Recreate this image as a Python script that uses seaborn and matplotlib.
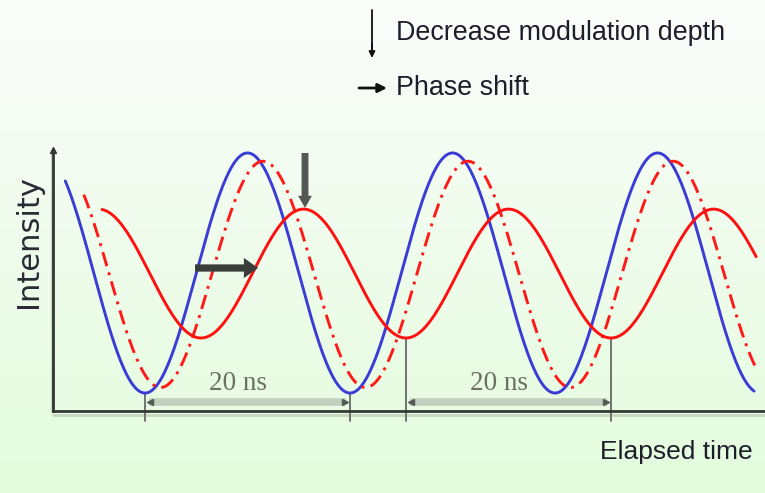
import numpy as np
import pandas as pd
import matplotlib
matplotlib.use("Agg")
import matplotlib.pyplot as plt
from matplotlib import font_manager
from matplotlib.lines import Line2D
import seaborn as sns

# ---------------- data ----------------
series = ["Excitation", "Phase shifted", "Emission"]
trough_ns = [8.98, 10.49, 14.44]        # time of first minimum (ns)
mean_level = [1.00, 0.99, 0.996]        # DC intensity
mod_amp = [0.87, 0.82, 0.467]           # modulation amplitude
t_start = [1.2, 3.0, 4.78]              # first drawn time (ns)
t_end = [68.4, 68.7, 68.6]              # last drawn time (ns)
period_ns = 20.0
colors = ["#3b3bd6", "#ff1a1a", "#ff1010"]

bracket_start = [8.98, 34.44]           # ns
bracket_len = [20.0, 20.0]
bracket_top = [0.13, 0.53]              # intensity of the minimum the bracket starts at
bracket_label = ["20 ns", "20 ns"]

legend_labels = ["Decrease modulation depth", "Phase shift"]
x_label = "Elapsed time"
y_label = "Intensity"

# ---------------- build the sine traces ----------------
rows = []
for name, tr, m, a, t0, t1 in zip(series, trough_ns, mean_level, mod_amp, t_start, t_end):
    t = np.linspace(t0, t1, 700)
    I = m - a * np.cos(2 * np.pi * (t - tr) / period_ns)
    rows.append(pd.DataFrame({"t": t, "I": I, "series": name}))
df = pd.concat(rows, ignore_index=True)

# ---------------- figure ----------------
sns.set_theme(style="white")
names = {f.name for f in font_manager.fontManager.ttflist}
narrow = "Liberation Sans Narrow" in names
sans = "Liberation Sans Narrow" if narrow else "Liberation Sans"
plt.rcParams["font.family"] = [sans, "DejaVu Sans"]

W, H = 765, 493
fig = plt.figure(figsize=(W / 100, H / 100), dpi=100)

# background gradient
bg = fig.add_axes([0, 0, 1, 1], zorder=-10)
top_c = np.array([251, 253, 251]) / 255
bot_c = np.array([227, 252, 221]) / 255
g = np.linspace(0, 1, 256)[:, None]
grad = top_c[None, :] * (1 - g) + bot_c[None, :] * g
bg.imshow(grad[:, None, :], aspect="auto", extent=[0, 1, 0, 1])
bg.axis("off")

def fx(x):
    return x / W

def fy(y):
    return 1 - y / H

x0, x1, y0, y1 = 53, 765, 411, 150
ax = fig.add_axes([fx(x0), fy(y0), fx(x1) - fx(x0), fy(y1) - fy(y0)])
ax.patch.set_alpha(0)
px_per_ns = 10.25
px_per_I = 138.0
ax.set_xlim(0, (x1 - x0) / px_per_ns)
ax.set_ylim(0, (y0 - y1) / px_per_I)

sns.lineplot(data=df, x="t", y="I", hue="series", style="series",
             palette=dict(zip(series, colors)),
             dashes={"Excitation": "", "Phase shifted": (5, 2.2, 1, 2.2), "Emission": ""},
             sort=False, estimator=None, linewidth=2.1, legend=False, ax=ax, zorder=3)

ax.set_xticks([])
ax.set_yticks([])
ax.set_xlabel("")
ax.set_ylabel("")
for s in ["top", "right"]:
    ax.spines[s].set_visible(False)
for s in ["left", "bottom"]:
    ax.spines[s].set_color("#333833")
    ax.spines[s].set_linewidth(2.0)
    ax.spines[s].set_zorder(5)

# light shadows of axes
fig.add_artist(Line2D([fx(51.5), fx(51.5)], [fy(y0), fy(152)], color="#c7d3c5", lw=1.5, zorder=-5))
fig.add_artist(Line2D([fx(53), fx(765)], [fy(414.5), fy(414.5)], color="#c7d8c3", lw=2.0, zorder=-5))
# y axis small arrow head
ax.plot([0], [ax.get_ylim()[1]], marker="^", ms=4.5, color="#333833", clip_on=False, zorder=6)

# brackets
ybar = (y0 - 402) / px_per_I
ylow = (y0 - 421) / px_per_I
ytxt = (y0 - 384) / px_per_I
for s0, L, top, lab in zip(bracket_start, bracket_len, bracket_top, bracket_label):
    for xx in (s0, s0 + L):
        ax.plot([xx, xx], [top, ylow], color="#6f746f", lw=1.4, clip_on=False, zorder=2)
    ax.plot([s0 + 0.35, s0 + L - 0.35], [ybar, ybar], color="#c3cfbf", lw=5.5,
            solid_capstyle="butt", zorder=1)
    ax.plot([s0 + 0.5], [ybar], marker="<", ms=4, color="#555a55", zorder=2)
    ax.plot([s0 + L - 0.5], [ybar], marker=">", ms=4, color="#555a55", zorder=2)
    ax.text(s0 + L / 2 - 0.9, ytxt, lab, ha="center", va="center",
            family=["Liberation Serif", "DejaVu Serif"], fontsize=19.5, color="#6d6f62", zorder=2)

# phase shift arrow (thick)
ax.annotate("", xy=((258 - x0) / px_per_ns, (y0 - 268) / px_per_I),
            xytext=((195 - x0) / px_per_ns, (y0 - 268) / px_per_I),
            arrowprops=dict(arrowstyle="simple,head_length=0.7,head_width=1.0,tail_width=0.36",
                            color="#3a3e3a", mutation_scale=14.5, shrinkA=0, shrinkB=0, lw=0),
            zorder=6)
# decrease modulation depth arrow (vertical)
ax.annotate("", xy=((305 - x0) / px_per_ns, (y0 - 208) / px_per_I),
            xytext=((305 - x0) / px_per_ns, (y0 - 153) / px_per_I),
            arrowprops=dict(arrowstyle="simple,head_length=0.8,head_width=0.9,tail_width=0.45",
                            color="#555955", mutation_scale=11, shrinkA=0, shrinkB=0, lw=0),
            zorder=6)

# top legend
fig.add_artist(plt.Line2D([fx(372), fx(372)], [fy(10), fy(50)], color="#111111", lw=1.3))
ax.annotate("", xy=(372, H - 58), xytext=(372, H - 44), xycoords="figure pixels",
            textcoords="figure pixels",
            arrowprops=dict(arrowstyle="-|>", color="#111111", lw=1.3, mutation_scale=9,
                            shrinkA=0, shrinkB=0))
ax.annotate("", xy=(387, H - 88), xytext=(359, H - 88), xycoords="figure pixels",
            textcoords="figure pixels",
            arrowprops=dict(arrowstyle="-|>", color="#111111", lw=2.0, mutation_scale=13,
                            shrinkA=0, shrinkB=0))

fs_h = 23 if narrow else 19
fs_leg = 23.5 if narrow else 19.4
txt_c = "#1d1d2b"
fig.text(fx(396), fy(33), legend_labels[0], ha="left", va="center", fontsize=fs_leg, color=txt_c)
fig.text(fx(396), fy(88), legend_labels[1], ha="left", va="center", fontsize=fs_leg, color=txt_c)
fig.text(fx(600), fy(452), x_label, ha="left", va="center", fontsize=fs_h, color=txt_c)
fig.text(fx(28), fy(242), y_label, ha="center", va="center", rotation=90,
         family=["DejaVu Sans"], fontsize=22, color="#2a2a34")

fig.savefig("out.png", dpi=100)
